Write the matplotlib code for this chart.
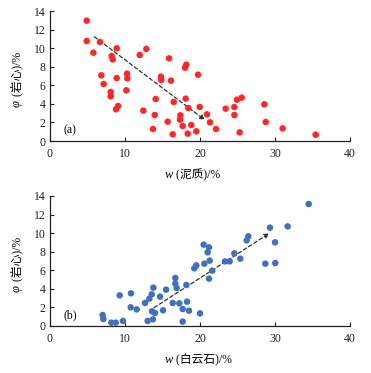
import matplotlib
matplotlib.use("Agg")
import matplotlib.pyplot as plt

# Panel (a): mud content vs core porosity
mud_x = [4.89, 4.89, 6.67, 5.78, 8.89, 8.22, 8.36, 6.84, 7.16, 8.89, 8.09, 8.09, 9.07, 8.8,
         10.27, 10.31, 10.18, 12.84, 11.96, 12.44, 14.09, 13.96, 13.73, 14.8, 14.84, 15.87,
         16.13, 16.49, 15.69, 16.36, 17.38, 17.33, 17.69, 18.0, 18.18, 18.09, 18.44, 18.36,
         18.84, 19.51, 19.73, 19.96, 20.93, 21.33, 22.13, 23.42, 24.58, 24.58, 24.93, 25.56,
         25.29, 28.58, 28.76, 31.02, 35.42]
mud_y = [12.96, 10.77, 10.66, 9.51, 9.98, 9.15, 8.79, 7.07, 6.14, 6.78, 5.28, 4.81, 3.77, 3.41,
         7.25, 6.75, 5.46, 9.91, 9.26, 3.27, 4.52, 2.80, 1.29, 6.93, 6.57, 8.90,
         6.50, 4.20, 2.08, 0.72, 2.76, 2.30, 1.62, 7.90, 8.22, 4.56, 3.55, 0.79,
         1.72, 1.04, 7.14, 3.66, 2.87, 2.01, 1.29, 3.48, 3.66, 2.80, 4.45, 4.67,
         0.93, 3.95, 2.05, 1.36, 0.68]
mud_trend_x = [5.91, 20.67]
mud_trend_y = [11.23, 2.26]

# Panel (b): dolomite content vs core porosity
dol_x = [34.49, 31.69, 29.33, 30.0, 30.04, 28.71, 26.44, 26.22, 24.58, 25.38, 23.96, 23.33,
         20.49, 21.2, 21.02, 21.29, 20.58, 21.64, 21.2, 19.51, 19.24, 16.71, 16.71, 16.89,
         18.18, 13.78, 15.47, 13.56, 13.24, 14.67, 12.67, 16.36, 17.24, 18.27, 9.29, 10.8,
         10.76, 11.56, 13.6, 14.0, 15.07, 17.69, 18.53, 20.0, 13.73, 13.02, 17.69, 7.02,
         7.11, 8.18, 8.76, 9.73]
dol_y = [13.14, 10.73, 10.59, 9.01, 6.78, 6.71, 9.66, 9.22, 7.82, 7.25, 6.96, 6.96,
         8.76, 8.47, 7.93, 7.04, 6.71, 5.96, 5.10, 6.53, 6.21, 5.17, 4.56, 4.09,
         4.41, 4.13, 3.91, 3.41, 2.94, 3.16, 2.48, 2.48, 2.44, 2.62, 3.30, 3.52,
         2.01, 1.79, 1.58, 1.40, 1.69, 1.83, 1.65, 1.36, 0.72, 0.54, 0.47, 1.18,
         0.75, 0.36, 0.36, 0.54]
dol_trend_x = [13.87, 29.24]
dol_trend_y = [1.97, 9.98]

x_ticks = [0, 10, 20, 30, 40]
y_ticks = [0, 2, 4, 6, 8, 10, 12, 14]

FAM = ['Liberation Serif', 'Noto Sans CJK SC']
plt.rcParams['font.family'] = FAM
FS = 8.5
LFS = 8.5

W, H = 371, 373
fig = plt.figure(figsize=(W / 100, H / 100), dpi=100)


def make_axes(top_px, bottom_px):
    left, right = 50, 350
    return fig.add_axes([left / W, 1 - bottom_px / H, (right - left) / W, (bottom_px - top_px) / H])


panels = [
    (make_axes(11, 141), mud_x, mud_y, mud_trend_x, mud_trend_y, '#ff2626', '(a)',
     ' (泥质)/%', 178, 107),
    (make_axes(196, 326), dol_x, dol_y, dol_trend_x, dol_trend_y, '#4070c0', '(b)',
     ' (白云石)/%', 363, 292),
]

for ax, xs, ys, tx, ty, col, tag, xlab, xlab_y, ylab_bottom in panels:
    ax.scatter(xs, ys, s=22, color=col, edgecolors='none', zorder=3)
    ax.annotate('', xy=(tx[1], ty[1]), xytext=(tx[0], ty[0]),
                arrowprops=dict(arrowstyle='-|>', linestyle=(0, (3, 2)), color='#333333',
                                lw=0.9, mutation_scale=7, shrinkA=0, shrinkB=0), zorder=2)
    ax.set_xlim(0, 40)
    ax.set_ylim(0, 14)
    ax.set_xticks(x_ticks)
    ax.set_yticks(y_ticks)
    ax.tick_params(direction='in', length=3, width=0.8, labelsize=FS, colors='#222222')
    ax.tick_params(axis='x', pad=5)
    ax.tick_params(axis='y', pad=3)
    for s in ['top', 'right']:
        ax.spines[s].set_visible(False)
    for s in ['left', 'bottom']:
        ax.spines[s].set_linewidth(0.9)
        ax.spines[s].set_color('#222222')
    ax.text(0.045, 0.035, tag, transform=ax.transAxes, fontsize=FS, ha='left', va='bottom')

    # x label: italic w followed by the rest
    t1 = fig.text(165 / W, 1 - xlab_y / H, 'w', fontsize=LFS + 0.5, style='italic', ha='left',
                  va='baseline', family=FAM)
    ax.annotate(xlab, xy=(1, 0), xycoords=t1, xytext=(0, 0), textcoords='offset points',
                fontsize=LFS, ha='left', va='bottom', family=FAM, annotation_clip=False)

    # y label: italic phi followed by the rest (rotated, reading upward)
    t2 = fig.text(17 / W, 1 - ylab_bottom / H, 'φ', fontsize=LFS + 0.5, style='italic',
                  rotation=90, ha='center', va='bottom', family=FAM)
    ax.annotate(' (岩心)/%', xy=(0.5, 1), xycoords=t2, xytext=(0, 1),
                textcoords='offset points', fontsize=LFS, rotation=90,
                ha='center', va='bottom', family=FAM, annotation_clip=False)

fig.savefig('out.png', dpi=100)
